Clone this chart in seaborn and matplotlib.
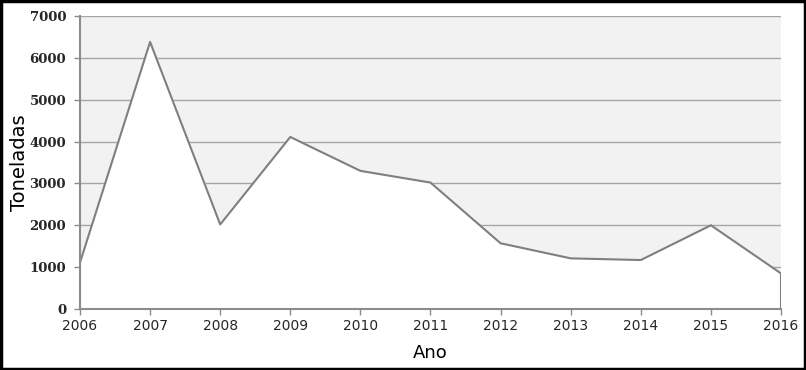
import matplotlib
matplotlib.use("Agg")
import matplotlib.pyplot as plt
import seaborn as sns
import pandas as pd
from matplotlib.patches import Rectangle

anos = [2006, 2007, 2008, 2009, 2010, 2011, 2012, 2013, 2014, 2015, 2016]
toneladas = [1110, 6380, 2020, 4110, 3300, 3020, 1570, 1210, 1170, 2000, 850]
y_ticks = [0, 1000, 2000, 3000, 4000, 5000, 6000, 7000]

df = pd.DataFrame({"Ano": anos, "Toneladas": toneladas})

sns.set_theme(style="white")
plt.rcParams['font.family'] = ['DejaVu Sans']

fig = plt.figure(figsize=(8.06, 3.70), dpi=100)
ax = fig.add_axes([80/806, 1-309/370, (781-80)/806, (309-16)/370])
ax.set_facecolor("#f2f2f2")

ax.set_xlim(2006, 2016)
ax.set_ylim(0, 7000)
ax.set_yticks(y_ticks)
ax.set_xticks(anos)
for t in y_ticks[1:]:
    ax.axhline(t, color="#a6a6a6", lw=1.0, zorder=1)

ax.fill_between(df["Ano"], df["Toneladas"], 0, color="white", zorder=2)
sns.lineplot(data=df, x="Ano", y="Toneladas", ax=ax, color="#7f7f7f", lw=1.5, zorder=3)
ax.plot([2016, 2016], [0, toneladas[-1]], color="#7f7f7f", lw=1.5, zorder=3)
ax.plot([2006, 2006], [0, toneladas[0]], color="#7f7f7f", lw=1.5, zorder=3)

for s in ["top", "right"]:
    ax.spines[s].set_visible(False)
for s in ["left", "bottom"]:
    ax.spines[s].set_color("#8c8c8c")
    ax.spines[s].set_linewidth(1.5)
ax.spines["left"].set_zorder(4)
ax.spines["bottom"].set_zorder(4)

ax.tick_params(axis="both", which="both", direction="out", length=4, width=1,
               color="#8c8c8c", bottom=True, left=True)
ax.tick_params(axis="y", labelsize=10, pad=6)
ax.tick_params(axis="x", labelsize=10, pad=3, labelcolor="#262626")
for lab in ax.get_yticklabels():
    lab.set_fontfamily("DejaVu Serif")
    lab.set_fontweight("bold")
    lab.set_fontsize(9.5)

ax.set_xlabel("Ano", fontsize=13, labelpad=8, color="black")
ax.set_ylabel("Toneladas", fontsize=14, color="black")
ax.yaxis.set_label_coords(-0.073, 0.5)

fig.patches.append(Rectangle((0.0015, 0.003), 0.997, 0.994, transform=fig.transFigure,
                             fill=False, edgecolor="black", lw=2.5))

fig.savefig("out.png", dpi=100)
